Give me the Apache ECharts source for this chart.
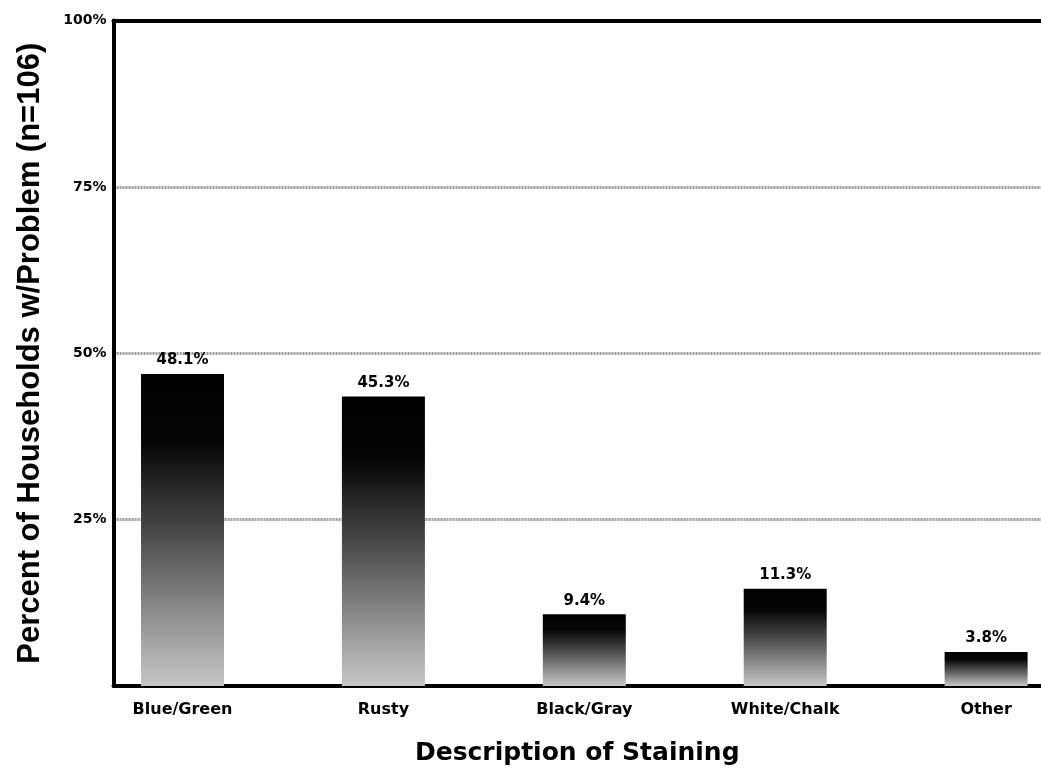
<!DOCTYPE html>
<html>
<head>
<meta charset="utf-8">
<script src="https://cdn.jsdelivr.net/npm/echarts@6/dist/echarts.min.js"></script>
<style>
html,body{margin:0;padding:0;background:#fff;}
#chart{width:1041px;height:773px;}
</style>
</head>
<body>
<div id="chart"></div>
<script>
const categories = ['Blue/Green', 'Rusty', 'Black/Gray', 'White/Chalk', 'Other'];
const barValues = [46.9, 43.5, 10.8, 14.6, 5.1];
const labelTexts = ['48.1%', '45.3%', '9.4%', '11.3%', '3.8%'];
const categoryPositions = [0, 1, 2, 3, 4];
const yTickStep = 25;
const yMax = 100;
const yAxisTitle = 'Percent of Households w/Problem (n=106)';
const xAxisTitle = 'Description of Staining';

const chart = echarts.init(document.getElementById('chart'), null, {renderer: 'canvas'});
const hFont = 'DejaVu Sans';
const barGradient = new echarts.graphic.LinearGradient(0, 0, 0, 1, [
  {offset: 0, color: '#000000'},
  {offset: 0.22, color: '#060606'},
  {offset: 0.5, color: '#484848'},
  {offset: 0.8, color: '#959595'},
  {offset: 1, color: '#c6c6c6'}
]);

const option = {
  backgroundColor: '#ffffff',
  animation: false,
  grid: {left: 113.5, right: 0, top: 20.5, bottom: 87, containLabel: false},
  xAxis: [{
    type: 'value',
    min: -0.3435,
    max: 4.2732,
    position: 'bottom',
    axisLine: {show: true, onZero: false, lineStyle: {color: '#000', width: 4}},
    axisTick: {show: false},
    splitLine: {show: false},
    axisLabel: {
      customValues: categoryPositions,
      formatter: v => categories[Math.round(v)] || '',
      color: '#000', fontFamily: hFont, fontWeight: 'bold', fontSize: 16, margin: 16,
      showMinLabel: true, showMaxLabel: true
    },
    name: xAxisTitle,
    nameLocation: 'middle',
    nameGap: 55,
    nameTextStyle: {color: '#000', fontFamily: hFont, fontWeight: 'bold', fontSize: 25}
  }, {
    type: 'value',
    min: -0.3435,
    max: 4.2732,
    position: 'top',
    axisLine: {show: true, onZero: false, lineStyle: {color: '#000', width: 4}},
    axisTick: {show: false},
    axisLabel: {show: false},
    splitLine: {show: false}
  }],
  yAxis: {
    type: 'value',
    min: 0,
    max: yMax,
    interval: yTickStep,
    axisLine: {show: true, onZero: false, lineStyle: {color: '#000', width: 4}},
    axisTick: {show: false},
    axisLabel: {
      formatter: v => v === 0 ? '' : v + '%',
      color: '#000', fontFamily: hFont, fontWeight: 'bold', fontSize: 14, margin: 7
    },
    splitLine: {
      show: true, showMinLine: false, showMaxLine: false,
      lineStyle: {color: '#9a9a9a', type: [2, 1], width: 3}
    },
    name: yAxisTitle,
    nameLocation: 'middle',
    nameGap: 68,
    nameRotate: 90,
    nameTextStyle: {color: '#000', fontFamily: 'Liberation Sans', fontWeight: 'bold', fontSize: 31}
  },
  series: [{
    type: 'bar',
    xAxisIndex: 0,
    data: categoryPositions.map((p, i) => [p, barValues[i]]),
    barWidth: 83,
    itemStyle: {color: barGradient},
    label: {
      show: true,
      position: 'top',
      distance: 6,
      formatter: p => labelTexts[p.dataIndex],
      color: '#000', fontFamily: hFont, fontWeight: 'bold', fontSize: 15
    },
    z: 3
  }]
};
chart.setOption(option);
</script>
</body>
</html>
